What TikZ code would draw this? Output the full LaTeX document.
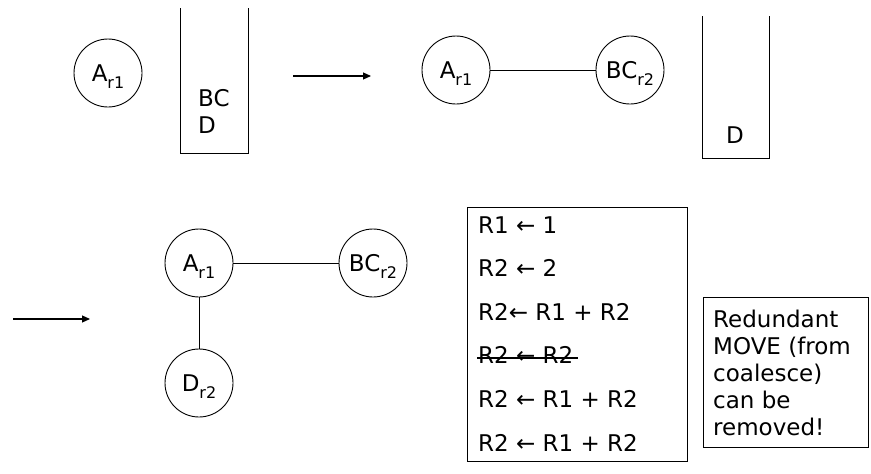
\documentclass[tikz,border=0pt]{standalone}
\usepackage{fontspec}
\setmainfont{DejaVu Sans}
\usetikzlibrary{arrows.meta}
\newcommand{\regsub}[1]{\raisebox{-7pt}[0pt][0pt]{\fontsize{16}{16}\selectfont #1}}
\begin{document}
\begin{tikzpicture}[x=1pt,y=-1pt,
  every node/.style={font=\fontsize{23}{27}\selectfont},
  var/.style={draw, circle, minimum size=68pt, inner sep=0pt, line width=0.9pt},
  edge/.style={line width=0.9pt},
  stackline/.style={line width=0.9pt},
  trans/.style={line width=1.1pt, -{Triangle[length=8pt,width=7pt]}},
  txt/.style={anchor=base west, inner sep=0pt},
  boxline/.style={line width=1pt}
]
\useasboundingbox (0,0) rectangle (871,474);

% ---- step 1 ----
\node[var] (a1) at (108,73) {A\regsub{r1}};
\draw[stackline] (180,8) -- (180,153) -- (248,153) -- (248,8);
\node[txt] (s1bc) at (198,106) {BC};
\node[txt] (s1d) at (198,133) {D};

\coordinate (t1s) at (293,76);
\coordinate (t1e) at (371,76);
\draw[trans] (t1s) -- (t1e);

% ---- step 2 ----
\node[var] (a2) at (456,70) {A\regsub{r1}};
\node[var] (bc2) at (630,70) {BC\regsub{r2}};
\draw[edge] (a2) -- (bc2);
\draw[stackline] (702,16) -- (702,158) -- (769,158) -- (769,16);
\node[txt] (s2d) at (726,143) {D};

% ---- step 3 ----
\coordinate (t2s) at (13,319);
\coordinate (t2e) at (90,319);
\draw[trans] (t2s) -- (t2e);

\node[var] (a3) at (199,263) {A\regsub{r1}};
\node[var] (bc3) at (373,263) {BC\regsub{r2}};
\node[var] (d3) at (199,383) {D\regsub{r2}};
\draw[edge] (a3) -- (bc3);
\draw[edge] (a3) -- (d3);

% ---- code box ----
\draw[boxline] (467,207) rectangle (687,461);
\node[txt] (c1) at (478,233) {R1 ← 1};
\node[txt] (c2) at (478,276.6) {R2 ← 2};
\node[txt] (c3) at (478,320.2) {R2← R1 + R2};
\node[txt] (c4) at (478,363.8) {R2 ← R2};
\node[txt] (c5) at (478,407.4) {R2 ← R1 + R2};
\node[txt] (c6) at (478,451) {R2 ← R1 + R2};
\draw[line width=2pt] ([xshift=-1pt,yshift=6pt]c4.base west) -- ([xshift=4pt,yshift=6pt]c4.base east);

% ---- note box ----
\draw[boxline] (703,297) rectangle (868,447);
\node[txt] (n1) at (713,327) {Redundant};
\node[txt] (n2) at (713,354) {MOVE (from};
\node[txt] (n3) at (713,381) {coalesce)};
\node[txt] (n4) at (713,408) {can be};
\node[txt] (n5) at (713,435) {removed!};
\end{tikzpicture}
\end{document}
